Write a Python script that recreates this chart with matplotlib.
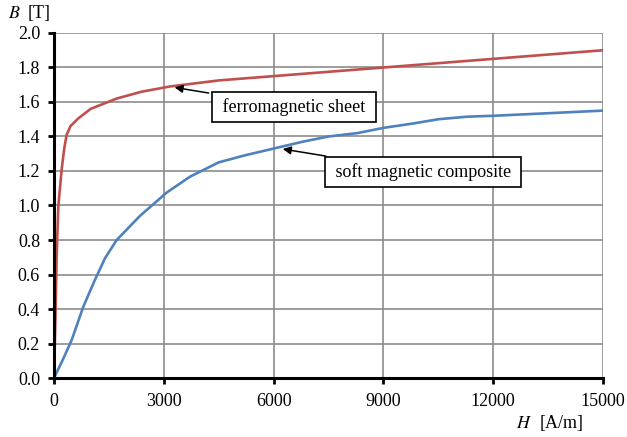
import numpy as np
import matplotlib.pyplot as plt

# B-H curves
h_sheet = [0, 40, 74, 120, 210, 280, 346, 450, 665, 1000, 1713, 2400, 3170, 4500, 6000, 7500, 9000, 10500, 12000, 13500, 15000]
b_sheet = [0, 0.35, 0.72, 1.0, 1.21, 1.33, 1.41, 1.46, 1.505, 1.56, 1.62, 1.66, 1.69, 1.725, 1.75, 1.775, 1.80, 1.825, 1.85, 1.875, 1.90]

h_smc = [0, 250, 483, 801, 1100, 1393, 1713, 2350, 3079, 3716, 4500, 5200, 6000, 6800, 7500, 8300, 9000, 9800, 10500, 11300, 12000, 13500, 15000]
b_smc = [0, 0.11, 0.22, 0.413, 0.56, 0.694, 0.80, 0.94, 1.075, 1.167, 1.25, 1.29, 1.33, 1.37, 1.40, 1.42, 1.45, 1.475, 1.50, 1.515, 1.52, 1.535, 1.55]

x_ticks = [0, 3000, 6000, 9000, 12000, 15000]
y_ticks = np.arange(0, 2.01, 0.2)

plt.rcParams['font.family'] = 'Liberation Serif'
plt.rcParams['font.size'] = 13
plt.rcParams['mathtext.fontset'] = 'stix'

fig = plt.figure(figsize=(6.27, 4.37), dpi=100)
ax = fig.add_axes([0.0861, 0.135, 0.8756, 0.7895])

ax.plot(h_sheet, b_sheet, color='#C0504D', lw=1.9, zorder=3)
ax.plot(h_smc, b_smc, color='#4F81BD', lw=1.9, zorder=3)

ax.set_xlim(0, 15000)
ax.set_ylim(0, 2.0)
ax.set_xticks(x_ticks)
ax.set_yticks(y_ticks)
ax.set_yticklabels([f"{v:.1f}" for v in y_ticks])
ax.grid(True, color='#8c8c8c', lw=1.2, zorder=1)
ax.set_axisbelow(True)

for s in ['top', 'right']:
    ax.spines[s].set_visible(False)
for s in ['left', 'bottom']:
    ax.spines[s].set_linewidth(2.2)
    ax.spines[s].set_zorder(4)
ax.tick_params(width=2, length=4, colors='black')
ax.tick_params(axis='y', pad=6)
ax.tick_params(axis='x', pad=7)

box = dict(boxstyle='square,pad=0.33', fc='white', ec='black', lw=1.2)
arrow = dict(arrowstyle='-|>', color='black', lw=1.1, mutation_scale=12)
ax.annotate(' ferromagnetic sheet ', xy=(3220, 1.687), xytext=(4480, 1.571),
            textcoords='data', va='center', ha='left', bbox=box,
            arrowprops=arrow, zorder=5)
ax.annotate(' soft magnetic composite ', xy=(6175, 1.33), xytext=(7560, 1.194),
            textcoords='data', va='center', ha='left', bbox=box,
            arrowprops=arrow, zorder=5)

fig.text(0.013, 0.968, r'$B$', fontsize=13, va='center')
fig.text(0.044, 0.968, '[T]', fontsize=13, va='center')
fig.text(0.823, 0.032, r'$H$', fontsize=13, va='center')
fig.text(0.860, 0.032, '[A/m]', fontsize=13, va='center')

fig.savefig('out.png', dpi=100)
